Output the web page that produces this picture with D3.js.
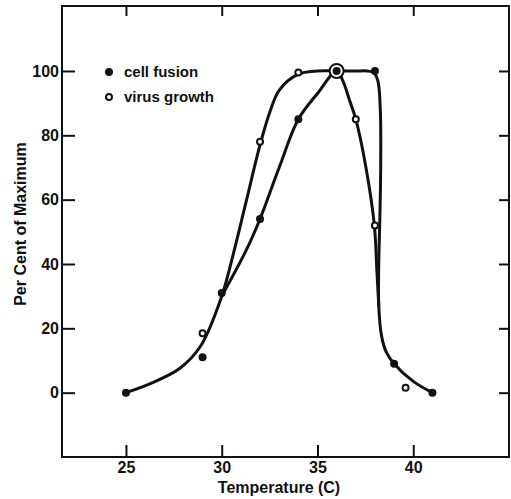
<!DOCTYPE html>
<html>
<head>
<meta charset="utf-8">
<script src="https://cdn.jsdelivr.net/npm/d3@7"></script>
<style>
  body { margin: 0; background: #fff; }
  text { font-family: "Liberation Sans", Arial, sans-serif; font-weight: bold; fill: #111; }
</style>
</head>
<body>
<div class="chart"></div>
<script>
// measured points
const fusionTemp = [25, 29, 30, 32, 34, 36, 38, 39, 41];
const fusionPct = [0, 11, 31, 54, 85, 100, 100, 9, 0];
const virusTemp = [29, 32, 34, 36, 37, 38, 39.6];
const virusPct = [18.5, 78, 99.5, 100, 85, 52, 1.5];

// hand-drawn curves
const outerTemp = [25, 26.3, 27.8, 28.9, 30, 30.6, 31.3, 32, 32.5, 33, 34, 35, 36, 37, 37.6, 37.93, 38.15, 38.28, 38.3, 38.26, 38.2, 38.2, 38.35, 38.6, 39, 40, 41];
const outerPct = [0, 2.9, 7.5, 14.5, 30, 43, 60, 77, 87, 94, 99, 100, 100, 100, 100, 99.5, 97, 88, 70, 55, 40, 27, 17.5, 12.5, 9, 3.5, 0];
const innerTemp = [30, 31.28, 32, 33, 34, 35, 36, 36.32, 36.67, 37, 37.53, 37.97, 38.1, 38.2];
const innerPct = [30, 44.3, 54, 70, 85, 93, 100, 97, 91, 85, 70, 52, 38, 27];

const xTicks = [25, 30, 35, 40];
const yTicks = [0, 20, 40, 60, 80, 100];
const legendLabels = ['cell fusion', 'virus growth'];

const w = 511;
const h = 499;
const box = { left: 62, right: 509, top: 6, bottom: 457 };

const x = d3.scaleLinear().domain([21.66, 45]).range([box.left, box.right]);
const y = d3.scaleLinear().domain([-20, 120.2]).range([box.bottom, box.top]);

const svg = d3.select('.chart')
  .append('svg')
  .attr('width', w)
  .attr('height', h);

svg.append('rect')
  .attr('x', box.left)
  .attr('y', box.top)
  .attr('width', box.right - box.left)
  .attr('height', box.bottom - box.top)
  .attr('fill', 'none')
  .attr('stroke', '#111')
  .attr('stroke-width', 2);

function styleAxis(g) {
  g.select('.domain').remove();
  g.selectAll('.tick line').attr('stroke', '#111').attr('stroke-width', 2);
  g.selectAll('.tick text').attr('font-size', 16).attr('fill', '#111');
}

svg.append('g')
  .attr('transform', `translate(0, ${box.bottom})`)
  .call(d3.axisBottom(x).tickValues(xTicks).tickSizeInner(-12).tickSizeOuter(0).tickPadding(5))
  .call(styleAxis);

svg.append('g')
  .attr('transform', `translate(0, ${box.top})`)
  .call(d3.axisTop(x).tickValues(xTicks).tickSizeInner(-10).tickSizeOuter(0).tickFormat(''))
  .call(styleAxis);

svg.append('g')
  .attr('transform', `translate(${box.left}, 0)`)
  .call(d3.axisLeft(y).tickValues(yTicks).tickSizeInner(-13).tickSizeOuter(0).tickPadding(3))
  .call(styleAxis);

svg.append('g')
  .attr('transform', `translate(${box.right}, 0)`)
  .call(d3.axisRight(y).tickValues(yTicks).tickSizeInner(-10).tickSizeOuter(0).tickFormat(''))
  .call(styleAxis);

svg.append('text')
  .attr('x', 279)
  .attr('y', 493)
  .attr('text-anchor', 'middle')
  .attr('font-size', 16)
  .text('Temperature (C)');

svg.append('text')
  .attr('transform', 'translate(26, 224) rotate(-90)')
  .attr('text-anchor', 'middle')
  .attr('font-size', 16)
  .text('Per Cent of Maximum');

const line = d3.line()
  .x((d) => x(d[0]))
  .y((d) => y(d[1]))
  .curve(d3.curveCatmullRom.alpha(0.5));

[[outerTemp, outerPct], [innerTemp, innerPct]].forEach(([t, p]) => {
  svg.append('path')
    .datum(t.map((v, i) => [v, p[i]]))
    .attr('d', line)
    .attr('fill', 'none')
    .attr('stroke', '#111')
    .attr('stroke-width', 3)
    .attr('stroke-linejoin', 'round');
});

const fusion = fusionTemp.map((v, i) => [v, fusionPct[i]]);
const virus = virusTemp.map((v, i) => [v, virusPct[i]]);

// a virus point sitting on a fusion point is drawn as a large ring
svg.selectAll('circle.virus')
  .data(virus)
  .enter()
  .append('circle')
  .attr('class', 'virus')
  .attr('cx', (d) => x(d[0]))
  .attr('cy', (d) => y(d[1]))
  .attr('r', (d) => fusion.some((f) => f[0] === d[0] && f[1] === d[1]) ? 7 : 3)
  .attr('fill', '#fff')
  .attr('stroke', '#111')
  .attr('stroke-width', 2);

svg.selectAll('circle.fusion')
  .data(fusion)
  .enter()
  .append('circle')
  .attr('class', 'fusion')
  .attr('cx', (d) => x(d[0]))
  .attr('cy', (d) => y(d[1]))
  .attr('r', 4)
  .attr('fill', '#111');

const legend = svg.append('g').attr('transform', 'translate(109, 72)');
legendLabels.forEach((label, i) => {
  const row = legend.append('g').attr('transform', `translate(0, ${i * 25})`);
  row.append('circle')
    .attr('r', i === 0 ? 4 : 3)
    .attr('fill', i === 0 ? '#111' : '#fff')
    .attr('stroke', '#111')
    .attr('stroke-width', i === 0 ? 0 : 2);
  row.append('text')
    .attr('x', 15)
    .attr('y', 5)
    .attr('font-size', 15)
    .text(label);
});
</script>
</body>
</html>
